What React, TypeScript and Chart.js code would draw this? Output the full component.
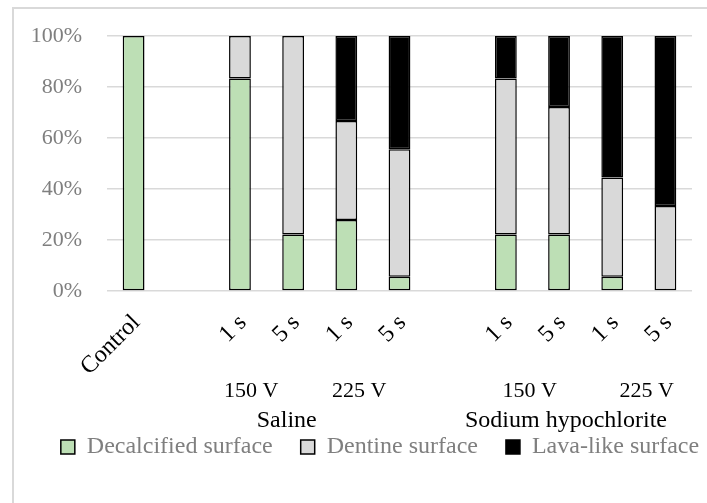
import React, { useEffect, useRef } from "react";
import { Chart, registerables } from "chart.js";

Chart.register(...registerables);

// ---- data ----
const categories = ["Control", "", "1 s", "5 s", "1 s", "5 s", "", "1 s", "5 s", "1 s", "5 s"];
const decalcified = [100, null, 83.3, 22.2, 27.8, 5.6, null, 22.2, 22.2, 5.6, 0];
const dentine = [0, null, 16.7, 77.8, 38.9, 50.0, null, 61.1, 50.0, 38.9, 33.3];
const lavaLike = [0, null, 0, 0, 33.3, 44.4, null, 16.7, 27.8, 55.5, 66.7];
const seriesNames = ["Decalcified surface", "Dentine surface", "Lava-like surface"];
const yTicks = [0, 20, 40, 60, 80, 100];

// second and third level category labels
const voltageLabels = ["150 V", "225 V", "150 V", "225 V"];
const solutionLabels = ["Saline", "Sodium hypochlorite"];

// label anchors, in category-index units (layout only)
const voltageAnchors = [2.21, 4.24, 7.45, 9.65];
const solutionAnchors = [2.88, 8.13];

const FONT = "'Liberation Serif', 'Times New Roman', serif";

const groupLabelPlugin = {
  id: "groupLabels",
  afterDraw(chart: any) {
    const { ctx, chartArea } = chart;
    const x = chart.scales.x;
    ctx.save();
    ctx.fillStyle = "#000000";
    ctx.textAlign = "center";
    ctx.textBaseline = "alphabetic";
    ctx.font = `22px ${FONT}`;
    voltageLabels.forEach((t, i) => {
      ctx.fillText(t, x.getPixelForValue(voltageAnchors[i]), chartArea.bottom + 106);
    });
    ctx.font = `24px ${FONT}`;
    solutionLabels.forEach((t, i) => {
      ctx.fillText(t, x.getPixelForValue(solutionAnchors[i]), chartArea.bottom + 136);
    });
    ctx.restore();
  },
};

export default function App() {
  const ref = useRef<HTMLCanvasElement | null>(null);

  useEffect(() => {
    if (!ref.current) return;
    const common = {
      borderColor: "#000000",
      borderWidth: 1.5,
      borderSkipped: false as const,
      categoryPercentage: 1,
      barPercentage: 0.41,
    };
    const chart = new Chart(ref.current, {
      type: "bar",
      data: {
        labels: categories,
        datasets: [
          { label: seriesNames[0], data: decalcified, backgroundColor: "#bddfb5", ...common },
          { label: seriesNames[1], data: dentine, backgroundColor: "#d9d9d9", ...common },
          { label: seriesNames[2], data: lavaLike, backgroundColor: "#000000", ...common },
        ],
      },
      options: {
        responsive: false,
        animation: false,
        devicePixelRatio: 1,
        layout: { padding: { left: 0, right: 0, top: 27, bottom: 40 } },
        plugins: {
          tooltip: { enabled: false },
          legend: {
            position: "bottom",
            align: "center",
            labels: {
              font: { family: FONT, size: 24 },
              color: "#7f7f7f",
              boxWidth: 14,
              boxHeight: 14,
              padding: 28,
            },
          },
        },
        scales: {
          x: {
            stacked: true,
            grid: { display: false },
            border: { display: false },
            ticks: {
              autoSkip: false,
              maxRotation: 45,
              minRotation: 45,
              padding: 10,
              labelOffset: 3,
              color: "#000000",
              font: { family: FONT, size: 24 },
            },
            afterFit(scale: any) {
              scale.height = 116;
            },
          },
          y: {
            stacked: true,
            min: 0,
            max: 100,
            afterBuildTicks(scale: any) {
              scale.ticks = yTicks.map((v) => ({ value: v }));
            },
            grid: { color: "#d9d9d9", lineWidth: 1.5, drawTicks: false },
            border: { display: false },
            ticks: {
              padding: 25,
              color: "#7f7f7f",
              font: { family: FONT, size: 22 },
              callback: (v: any) => `${v}%`,
            },
            afterFit(scale: any) {
              scale.width = 93;
              scale.paddingTop = 0;
              scale.paddingBottom = 0;
            },
          },
          yRight: {
            position: "right",
            display: true,
            grid: { display: false, drawTicks: false },
            border: { display: false },
            ticks: { display: false },
            afterFit(scale: any) {
              scale.width = 54;
              scale.paddingTop = 0;
              scale.paddingBottom = 0;
            },
          },
        },
      },
      plugins: [groupLabelPlugin],
    });
    return () => chart.destroy();
  }, []);

  return (
    <div
      style={{
        position: "fixed",
        left: 0,
        top: 0,
        width: 707,
        height: 503,
        overflow: "hidden",
        background: "#ffffff",
      }}
    >
      <div
        style={{
          position: "absolute",
          left: 12,
          top: 7,
          width: 732,
          height: 510,
          border: "2px solid #d9d9d9",
        }}
      >
        <canvas ref={ref} width={732} height={500} style={{ display: "block" }} />
      </div>
    </div>
  );
}
